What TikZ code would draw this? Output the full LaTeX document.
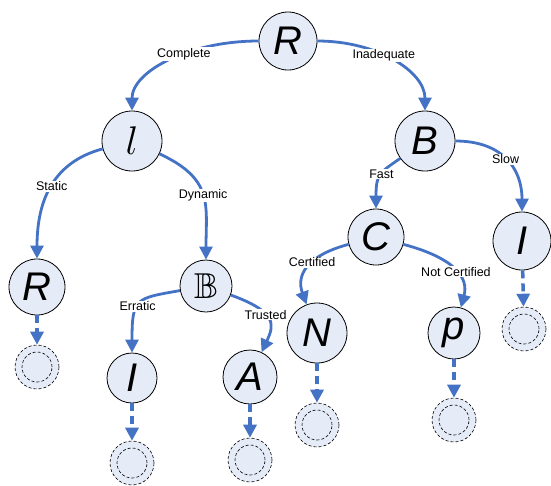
\RequirePackage{fix-cm}
\documentclass[tikz,border=0pt]{standalone}
\usepackage{amssymb}
\usepackage{fontspec}
\setmainfont{Liberation Sans}
\usetikzlibrary{arrows.meta}
\definecolor{edgeblue}{RGB}{68,114,196}
\definecolor{statefill}{RGB}{229,235,247}
\begin{document}
\begin{tikzpicture}[x=1pt,y=-1pt,
    state/.style={circle,draw,line width=0.8pt,fill=statefill,minimum size=58pt,inner sep=0pt,
      font=\fontsize{40}{40}\selectfont\itshape},
    final/.style={circle,draw,densely dashed,line width=0.6pt,fill=statefill,minimum size=44pt,inner sep=0pt,
      path picture={\draw[densely dashed,line width=0.6pt] (path picture bounding box.center) circle (15pt);}},
    edge/.style={edgeblue,line width=2.8pt,-{Triangle[length=13pt,width=13pt]}},
    fin/.style={edge,line width=3.5pt,dash pattern=on 8pt off 5pt},
    lbl/.style={fill=white,text=black,inner sep=1pt,font=\fontsize{12.5}{14}\selectfont}]

    \useasboundingbox (0,0) rectangle (551,485);

    % states
    \node[state] (R) at (288,41) {R};
    \node[state,minimum size=60pt] (l) at (132,141) {$l$};
    \node[state,minimum size=60pt] (B) at (425,141) {B};
    \node[state,minimum size=56pt] (C) at (376,237) {C};
    \node[state] (Ir) at (522,241) {I};
    \node[state,minimum size=56pt] (Rl) at (37,287) {R};
    \node[state,minimum size=52pt,font=\fontsize{36}{36}\selectfont] (Bb) at (206,286) {$\mathbb{B}$};
    \node[state,minimum size=50pt] (Il) at (132,378) {I};
    \node[state,minimum size=54pt] (A) at (250,377) {A};
    \node[state,minimum size=60pt] (N) at (317,333) {N};
    \node[state,minimum size=52pt] (p) at (454,333) {p};

    % end states
    \node[final] (fRl) at (37,367) {};
    \node[final] (fIl) at (132,463) {};
    \node[final] (fA) at (250,460) {};
    \node[final] (fN) at (317,425) {};
    \node[final] (fp) at (454,420) {};
    \node[final] (fIr) at (524,329) {};

    % choices
    \draw[edge] (R) to[out=180,in=90,out distance=70pt,in distance=39pt] node[lbl,pos=.4] {Complete} (l);
    \draw[edge] (R) to[out=0,in=90,out distance=60pt,in distance=39pt] node[lbl,pos=.42] {Inadequate} (B);
    \draw[edge] (l) to[out=195,in=90,out distance=50pt,in distance=60pt] node[lbl,pos=.5] {Static} (Rl);
    \draw[edge] (l) to[out=-25,in=90,out distance=60pt,in distance=55pt] node[lbl,pos=.5] {Dynamic} (Bb);
    \draw[edge] (B) to[out=215,in=90,out distance=25pt,in distance=35pt] node[lbl,pos=.45] {Fast} (C);
    \draw[edge] (B) to[out=0,in=90,out distance=45pt,in distance=45pt] node[lbl,pos=.5] {Slow} (Ir);
    \draw[edge] (C) to[out=195,in=110,out distance=45pt,in distance=30pt] node[lbl,pos=.4] {Certified} (N);
    \draw[edge] (C) to[out=-15,in=75,out distance=55pt,in distance=30pt] node[lbl,pos=.52] {Not Certified} (p);
    \draw[edge] (Bb) to[out=190,in=90,out distance=45pt,in distance=55pt] node[lbl,pos=.55] {Erratic} (Il);
    \draw[edge] (Bb) to[out=-20,in=65,out distance=50pt,in distance=30pt] node[lbl,pos=.4] {Trusted} (A);

    % to the end
    \draw[fin] (Rl) -- (fRl);
    \draw[fin] (Il) -- (fIl);
    \draw[fin] (A) -- (fA);
    \draw[fin] (N) -- (fN);
    \draw[fin] (p) -- (fp);
    \draw[fin] (Ir) -- (fIr);

\end{tikzpicture}
\end{document}
